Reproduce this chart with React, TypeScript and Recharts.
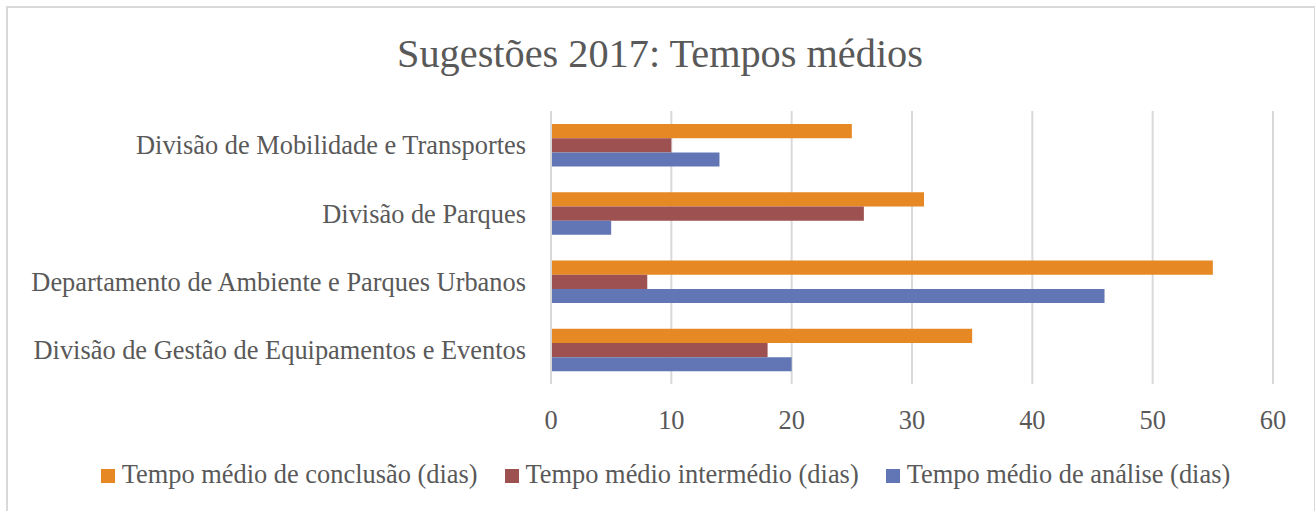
import React from "react";
import { BarChart, Bar, XAxis, YAxis, CartesianGrid } from "recharts";

const categories = [
  "Divisão de Mobilidade e Transportes",
  "Divisão de Parques",
  "Departamento de Ambiente e Parques Urbanos",
  "Divisão de Gestão de Equipamentos e Eventos",
];
const conclusao = [25, 31, 55, 35];
const intermedio = [10, 26, 8, 18];
const analise = [14, 5, 46, 20];
const xTicks = [0, 10, 20, 30, 40, 50, 60];

const seriesKeys = ["conclusao", "intermedio", "analise"];
const seriesNames = [
  "Tempo médio de conclusão (dias)",
  "Tempo médio intermédio (dias)",
  "Tempo médio de análise (dias)",
];
const seriesColors = ["#E68823", "#9E5151", "#6276B5"];

const data = categories.map((c, i) => ({
  name: c,
  conclusao: conclusao[i],
  intermedio: intermedio[i],
  analise: analise[i],
}));

const FONT = "'Liberation Serif', serif";
const TEXT = "#595959";
const FS = 26.4;

export default function App() {
  return (
    <div style={{ position: "absolute", left: 0, top: 0, width: 1315, height: 511, background: "#fff", overflow: "hidden" }}>
      <div style={{ position: "absolute", left: 6, top: 6, width: 1306, height: 520, border: "2px solid #d9d9d9" }} />
      <div
        style={{
          position: "absolute",
          left: 0,
          width: 1320,
          top: 30,
          textAlign: "center",
          fontFamily: FONT,
          fontSize: 40.3,
          color: TEXT,
          lineHeight: "48px",
        }}
      >
        Sugestões 2017: Tempos médios
      </div>
      <div style={{ position: "absolute", left: 0, top: 0 }}>
        <BarChart
          width={1315}
          height={511}
          data={data}
          layout="vertical"
          margin={{ top: 111, right: 42, bottom: 67, left: 0 }}
          barGap={0}
          barSize={14.2}
        >
          <CartesianGrid horizontal={false} vertical={true} stroke="#d9d9d9" strokeWidth={2} />
          <XAxis
            type="number"
            domain={[0, 60]}
            ticks={xTicks}
            interval={0}
            axisLine={false}
            tickLine={false}
            tickSize={0}
            tickMargin={26}
            tick={{ fill: TEXT, fontSize: FS, fontFamily: FONT }}
            height={60}
          />
          <YAxis
            type="category"
            dataKey="name"
            width={551}
            axisLine={{ stroke: "#d9d9d9", strokeWidth: 2 }}
            tickLine={false}
            tickSize={0}
            tickMargin={25}
            interval={0}
            tick={{ fill: TEXT, fontSize: FS, fontFamily: FONT }}
          />
          {seriesKeys.map((k, i) => (
            <Bar key={k} dataKey={k} name={seriesNames[i]} fill={seriesColors[i]} isAnimationActive={false} />
          ))}
        </BarChart>
      </div>
      <div
        style={{
          position: "absolute",
          left: 0,
          width: 1331,
          top: 459,
          display: "flex",
          justifyContent: "center",
          fontFamily: FONT,
          fontSize: FS,
          color: TEXT,
          lineHeight: "30px",
        }}
      >
        {seriesNames.map((n, i) => (
          <div key={n} style={{ display: "flex", alignItems: "center", marginRight: i < seriesNames.length - 1 ? 27 : 0 }}>
            <div style={{ width: 14, height: 14, background: seriesColors[i], marginRight: 7, marginTop: 3 }} />
            <span>{n}</span>
          </div>
        ))}
      </div>
    </div>
  );
}
